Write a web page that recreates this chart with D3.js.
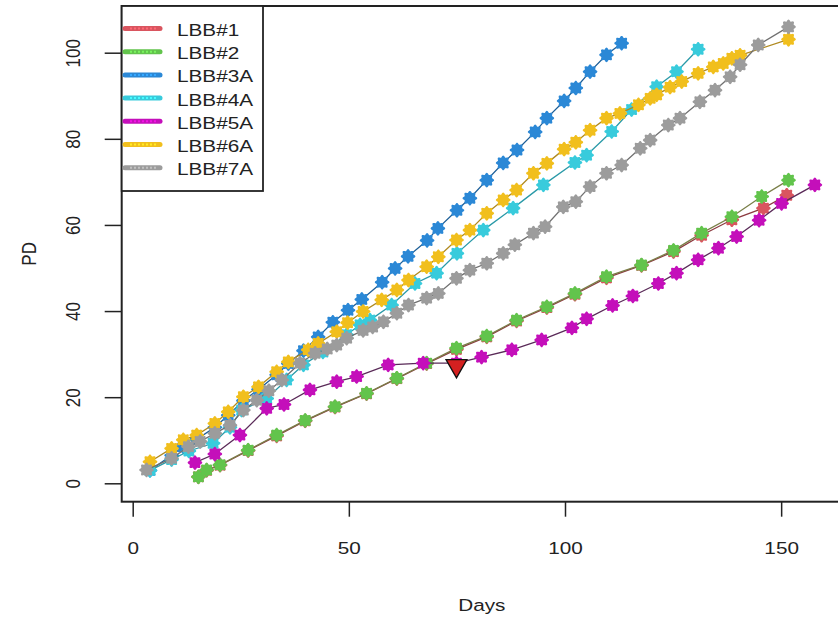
<!DOCTYPE html>
<html>
<head>
<meta charset="utf-8">
<script src="https://cdn.jsdelivr.net/npm/d3@7"></script>
<style>
  html, body { margin: 0; padding: 0; background: #fff; }
  svg { display: block; }
  text { font-family: "Liberation Sans", Arial, sans-serif; fill: #222; }
</style>
</head>
<body>
<script>
// Population doublings (PD) of each culture over time (days)
const seriesNames = ["LBB#1", "LBB#2", "LBB#3A", "LBB#4A", "LBB#5A", "LBB#6A", "LBB#7A"];

const lbb1Days = [15.2, 17.1, 20.2, 26.7, 33.3, 39.9, 46.8, 54.1, 61.1, 68.0, 74.9, 81.9, 88.8, 95.8, 102.3, 109.6, 117.7, 125.1, 131.6, 138.6, 145.9, 151.3];
const lbb1PD   = [1.5, 3.0, 4.2, 7.6, 11.0, 14.5, 17.7, 20.8, 24.3, 27.8, 31.1, 34.0, 37.7, 40.8, 43.9, 47.7, 50.6, 53.8, 57.6, 61.2, 63.9, 66.9];

const lbb2Days = [15.2, 17.1, 20.2, 26.7, 33.3, 39.9, 46.8, 54.1, 61.1, 68.0, 74.9, 81.9, 88.8, 95.8, 102.3, 109.6, 117.7, 125.1, 131.6, 138.6, 145.5, 151.7];
const lbb2PD   = [1.5, 3.1, 4.3, 7.7, 11.2, 14.6, 17.8, 20.9, 24.4, 27.9, 31.4, 34.2, 37.9, 41.0, 44.1, 48.0, 50.7, 54.1, 58.1, 61.9, 66.6, 70.4];

const lbb3aDays = [4, 9, 11.7, 14.8, 19, 22.1, 25.6, 29.1, 33.3, 36, 39.5, 42.9, 46.3, 49.8, 53, 57.7, 60.7, 63.7, 68.1, 70.6, 75, 78, 81.9, 85.7, 88.9, 93.1, 95.8, 99.8, 102.5, 105.8, 109.6, 113.1];
const lbb3aPD   = [3, 6.5, 8.5, 10.2, 13, 15.8, 19.2, 21.8, 25.2, 27.8, 30.8, 34, 37.4, 40.2, 42.7, 46.7, 49.9, 52.7, 56.4, 59.2, 63.4, 66.2, 70.4, 74.4, 77.4, 81.6, 84.8, 88.8, 91.8, 95.6, 99.5, 102.2];

const lbb4aDays = [4, 9, 13, 18.6, 22.5, 25.2, 31, 35.6, 39.5, 44, 49.5, 52.6, 54.9, 59.9, 65.3, 70.3, 75, 81.1, 88, 95, 102.3, 105, 110.8, 115.4, 121.2, 125.8, 130.8];
const lbb4aPD   = [3, 5.5, 7.5, 9.3, 13, 17, 19.7, 24, 27.5, 30.5, 34.5, 36.8, 37.9, 41.4, 46.4, 48.8, 53.4, 58.8, 63.9, 69.3, 74.5, 76.2, 81.7, 86.8, 92.1, 95.6, 100.8];

const lbb5aDays = [14.4, 19.0, 24.8, 31.0, 35.0, 41.0, 47.2, 51.8, 59.1, 67.2, 74.9, 80.7, 87.7, 94.6, 101.6, 105.0, 111.0, 115.7, 121.6, 125.8, 130.8, 135.5, 139.7, 144.9, 150.1, 157.8];
const lbb5aPD   = [4.8, 6.8, 11.2, 17.4, 18.3, 21.7, 23.6, 24.8, 27.5, 27.9, 27.9, 29.3, 31.0, 33.3, 36.1, 38.2, 41.3, 43.5, 46.4, 48.8, 51.9, 54.6, 57.3, 61.1, 65.0, 69.3];

const lbb6aDays = [4, 9, 11.7, 14.8, 19, 22.1, 25.6, 29.1, 33.3, 36, 40.6, 42.9, 47.2, 49.7, 53.3, 57.6, 61.1, 63.8, 68, 70.7, 74.9, 78, 81.9, 85.7, 88.8, 92.7, 95.8, 99.8, 102.5, 105.8, 109.6, 112.7, 117, 119.7, 121.2, 124.3, 127, 130.8, 134.3, 136.6, 138.6, 140.5, 151.7];
const lbb6aPD   = [5, 8.1, 10.1, 11.2, 13.9, 16.6, 20.1, 22.4, 25.9, 28.2, 31, 32.5, 35.2, 37.3, 39.9, 42.6, 44.9, 47.2, 50.3, 52.6, 56.5, 58.8, 62.7, 65.8, 68.1, 72, 74.3, 77.6, 79.2, 82, 84.8, 85.9, 87.9, 89.4, 90.2, 92, 93.3, 95.2, 96.7, 97.5, 98.7, 99.4, 103.1];

const lbb7aDays = [3.2, 9, 12.9, 15.6, 19, 22.5, 25.6, 28.7, 31.5, 34.5, 38.7, 42.2, 45, 47.2, 49.5, 53.3, 55.5, 58, 61.1, 63.8, 68, 70.7, 74.9, 78, 81.9, 85.7, 88.4, 92.7, 95.4, 99.6, 102.5, 105.8, 109.6, 113.1, 117.4, 119.7, 123.9, 126.6, 131.2, 134.7, 138.2, 140.5, 144.7, 151.7];
const lbb7aPD   = [3.1, 5.8, 8.5, 9.7, 11.6, 13.5, 17, 19.3, 21.5, 24, 27.9, 30.2, 31.2, 32.1, 33.7, 35.5, 36.3, 37.5, 39.5, 41.4, 43, 44.1, 47.6, 49.5, 51.1, 53.4, 55.4, 58.1, 59.6, 64.2, 65.4, 68.9, 72, 73.9, 77.8, 79.7, 83.2, 84.8, 88.6, 91.3, 94.4, 97.2, 101.8, 106];

// marked event on the LBB#5A curve
const markerDays = [74.9];
const markerPD   = [27.3];

const xTicks = [0, 50, 100, 150];
const yTicks = [0, 20, 40, 60, 80, 100];

const dayArrays = [lbb1Days, lbb2Days, lbb3aDays, lbb4aDays, lbb5aDays, lbb6aDays, lbb7aDays];
const pdArrays  = [lbb1PD, lbb2PD, lbb3aPD, lbb4aPD, lbb5aPD, lbb6aPD, lbb7aPD];

const pointColors = ["#d9555f", "#62c44c", "#2b88d6", "#38cbdc", "#c40fba", "#f1bf1d", "#9c9c9c"];
const lineColors  = ["#8c3a40", "#7a7f48", "#1d5f98", "#2a9aa8", "#5a2a58", "#b08a20", "#707070"];

const W = 838, H = 621;
const frame = { left: 121.7, top: 6, right: 842, bottom: 501.7 };
const STRETCH = 1.22;   // horizontal text widening of the device font

const x = d3.scaleLinear().domain([0, 100]).range([132.7, 565]);
const y = d3.scaleLinear().domain([0, 100]).range([483.3, 52.7]);

const svg = d3.select("body").append("svg").attr("width", W).attr("height", H);

// eight-lobed plotting symbol
function cog(r) {
  const pts = [];
  for (let i = 0; i <= 96; i++) {
    const a = i / 96 * 2 * Math.PI;
    const rr = r * (1 + 0.13 * Math.cos(8 * a));
    pts.push([rr * Math.cos(a), rr * Math.sin(a)]);
  }
  return d3.line()(pts) + "Z";
}
const symbolPath = cog(6.5);

const plot = svg.append("g");
const line = d3.line().x(d => x(d[0])).y(d => y(d[1]));

seriesNames.forEach((name, i) => {
  const data = dayArrays[i].map((d, j) => [d, pdArrays[i][j]]);
  const g = plot.append("g");
  g.append("path")
    .datum(data)
    .attr("d", line)
    .attr("fill", "none")
    .attr("stroke", lineColors[i])
    .attr("stroke-width", 1.3);
  g.selectAll("path.pt")
    .data(data)
    .join("path")
    .attr("class", "pt")
    .attr("d", symbolPath)
    .attr("transform", d => `translate(${x(d[0])},${y(d[1])})`)
    .attr("fill", pointColors[i]);
});

// inverted red triangle marker
const tri = d3.symbol().type(d3.symbolTriangle).size(190)();
plot.selectAll("path.mark")
  .data(markerDays.map((d, j) => [d, markerPD[j]]))
  .join("path")
  .attr("class", "mark")
  .attr("d", tri)
  .attr("transform", d => `translate(${x(d[0])},${y(d[1])}) rotate(180)`)
  .attr("fill", "#d42020")
  .attr("stroke", "#111")
  .attr("stroke-width", 1.3);

// axes
const xAxis = svg.append("g")
  .attr("transform", `translate(0,${frame.bottom})`)
  .call(d3.axisBottom(x).tickValues(xTicks).tickSize(15).tickPadding(25).tickFormat(d3.format("d")));
xAxis.select(".domain").remove();
xAxis.selectAll("line").attr("stroke", "#222").attr("stroke-width", 1.5);
xAxis.selectAll("text")
  .attr("transform", `scale(${STRETCH},1)`)
  .attr("font-size", 17).style("fill", "#222");

const yAxis = svg.append("g")
  .attr("transform", `translate(${frame.left},0)`)
  .call(d3.axisLeft(y).tickValues(yTicks).tickSize(17).tickFormat(d3.format("d")));
yAxis.select(".domain").remove();
yAxis.selectAll("line").attr("stroke", "#222").attr("stroke-width", 1.5);
yAxis.selectAll("text")
  .attr("x", null).attr("dy", null)
  .attr("text-anchor", "middle")
  .attr("transform", `translate(-42,0) scale(${STRETCH},1) rotate(-90)`)
  .attr("font-size", 17).style("fill", "#222");

// plot frame (right edge lies just outside the canvas)
svg.append("rect")
  .attr("x", frame.left).attr("y", frame.top)
  .attr("width", frame.right - frame.left).attr("height", frame.bottom - frame.top)
  .attr("fill", "none").attr("stroke", "#222").attr("stroke-width", 2);

// axis titles
svg.append("text")
  .attr("transform", `translate(${(frame.left + frame.right) / 2},611) scale(${STRETCH},1)`)
  .attr("text-anchor", "middle").attr("font-size", 17).text("Days");
svg.append("text")
  .attr("transform", `translate(36,${(frame.top + frame.bottom) / 2}) scale(${STRETCH},1) rotate(-90)`)
  .attr("text-anchor", "middle").attr("font-size", 17).text("PD");

// legend
const legend = svg.append("g");
legend.append("rect")
  .attr("x", frame.left).attr("y", frame.top).attr("width", 141.3).attr("height", 185)
  .attr("fill", "#fff").attr("stroke", "#222").attr("stroke-width", 1.8);
seriesNames.forEach((name, i) => {
  const ly = 28.5 + i * 23.2;
  legend.append("line")
    .attr("x1", 125).attr("x2", 160).attr("y1", ly).attr("y2", ly)
    .attr("stroke", pointColors[i]).attr("stroke-width", 5).attr("stroke-linecap", "round");
  legend.append("line")
    .attr("x1", 130).attr("x2", 157).attr("y1", ly).attr("y2", ly)
    .attr("stroke", d3.color(pointColors[i]).brighter(0.6)).attr("stroke-width", 2)
    .attr("stroke-dasharray", "2,2");
  legend.append("text")
    .attr("transform", `translate(177,${ly + 7.5}) scale(${STRETCH},1)`)
    .attr("font-size", 17).text(name);
});
</script>
</body>
</html>
